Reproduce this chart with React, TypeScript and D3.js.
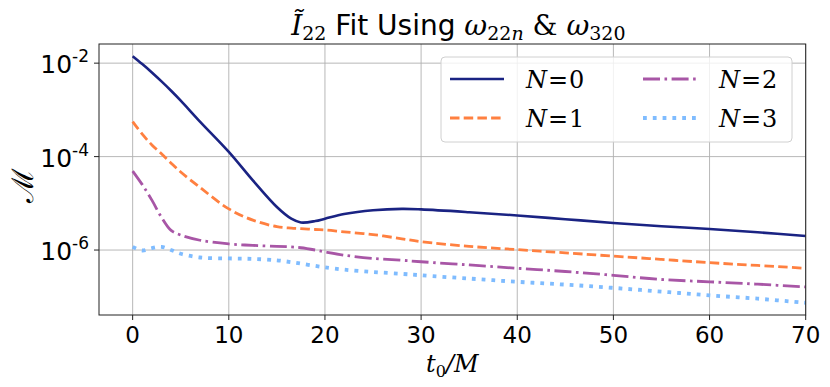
import React from "react";
import * as d3 from "d3";

// time samples (t0/M) shared by all series
const times = [0, 1, 2, 3, 4, 5, 7, 10, 12.5, 15, 16.5, 17.5, 19, 20, 22, 25, 28, 30, 35, 40, 45, 50, 55, 60, 65, 70];

// mismatch values
const mN0 = [1.41e-2, 9.55e-3, 6.31e-3, 4.07e-3, 2.57e-3, 1.58e-3, 5.62e-4, 1.26e-4, 3.09e-5, 8.32e-6, 4.68e-6, 3.89e-6, 4.17e-6, 4.68e-6, 5.89e-6, 7.08e-6, 7.59e-6, 7.41e-6, 6.46e-6, 5.5e-6, 4.57e-6, 3.8e-6, 3.24e-6, 2.82e-6, 2.4e-6, 2.0e-6];
const mN1 = [5.62e-4, 3.02e-4, 1.78e-4, 1.15e-4, 7.24e-5, 4.68e-5, 2.19e-5, 7.59e-6, 4.37e-6, 3.16e-6, 2.95e-6, 2.88e-6, 2.75e-6, 2.69e-6, 2.45e-6, 2.14e-6, 1.74e-6, 1.51e-6, 1.2e-6, 1.02e-6, 8.71e-7, 7.41e-7, 6.31e-7, 5.37e-7, 4.68e-7, 4.07e-7];
const mN2 = [4.9e-5, 2.51e-5, 1.17e-5, 5.01e-6, 2.63e-6, 2.09e-6, 1.62e-6, 1.35e-6, 1.26e-6, 1.2e-6, 1.17e-6, 1.12e-6, 1.0e-6, 9.12e-7, 7.76e-7, 6.61e-7, 6.03e-7, 5.62e-7, 4.79e-7, 4.07e-7, 3.47e-7, 2.88e-7, 2.34e-7, 2.09e-7, 1.86e-7, 1.62e-7];
const mN3 = [1.17e-6, 9.77e-7, 1.1e-6, 1.17e-6, 1.0e-6, 8.32e-7, 6.92e-7, 6.61e-7, 6.46e-7, 6.03e-7, 5.5e-7, 5.13e-7, 4.57e-7, 4.27e-7, 3.8e-7, 3.39e-7, 3.09e-7, 2.88e-7, 2.45e-7, 2.09e-7, 1.82e-7, 1.55e-7, 1.29e-7, 1.07e-7, 9.12e-8, 7.41e-8];

const seriesLabels = ["0", "1", "2", "3"];
const xTicks = [0, 10, 20, 30, 40, 50, 60, 70];
const yTicks = [1e-2, 1e-4, 1e-6];
const yTickExp = ["-2", "-4", "-6"];

const W = 830, H = 387;
const margin = { top: 44, right: 24.3, bottom: 72, left: 99 };

const styles = [
  { color: "#1a2383", dash: "none", width: 2.6 },
  { color: "#ff8040", dash: "9.5,4.2", width: 2.8 },
  { color: "#a856a6", dash: "17,4.5,2.6,4.5", width: 2.8 },
  { color: "#7fbcff", dash: "3.8,6", width: 3.8 },
];

export default function App() {
  const iw = W - margin.left - margin.right;
  const ih = H - margin.top - margin.bottom;

  const x = d3.scaleLinear().domain([-3.5, 70]).range([0, iw]);
  const y = d3.scaleLog().domain([4.07e-8, 2.57e-2]).range([ih, 0]);

  const line = d3
    .line<number>()
    .x((d, i) => x(times[i]))
    .y((d) => y(d))
    .curve(d3.curveCatmullRom.alpha(0.5));

  const all = [mN0, mN1, mN2, mN3];
  const serif = "'DejaVu Serif', serif";
  const sans = "'DejaVu Sans', sans-serif";

  // legend placement
  const lg = { x: 441, y: 57, w: 351, h: 85 };
  const legendPos = [
    { lx: 450, ty: 79 },
    { lx: 450, ty: 118 },
    { lx: 643, ty: 79 },
    { lx: 643, ty: 118 },
  ];

  return (
    <svg width={W} height={H} style={{ position: "absolute", left: 0, top: 0, background: "#fff" }}>
      {/* title */}
      <text x={margin.left + iw / 2 + 6} y={35} textAnchor="middle" fontSize={28} fontFamily={sans}>
        <tspan fontFamily={serif} fontStyle="italic">Ĩ</tspan>
        <tspan fontFamily={serif} fontSize={19} dy={5}>22</tspan>
        <tspan dy={-5}> Fit Using </tspan>
        <tspan fontFamily={serif} fontStyle="italic">ω</tspan>
        <tspan fontFamily={serif} fontSize={19} dy={5}>22</tspan>
        <tspan fontFamily={serif} fontSize={19} fontStyle="italic">n</tspan>
        <tspan fontFamily={serif} dy={-5}> &amp; </tspan>
        <tspan fontFamily={serif} fontStyle="italic">ω</tspan>
        <tspan fontFamily={serif} fontSize={19} dy={5}>320</tspan>
      </text>

      <g transform={`translate(${margin.left},${margin.top})`}>
        {/* grid */}
        {xTicks.map((t) => (
          <line key={"gx" + t} x1={x(t)} x2={x(t)} y1={0} y2={ih} stroke="#b0b0b0" strokeWidth={0.9} />
        ))}
        {yTicks.map((t) => (
          <line key={"gy" + t} x1={0} x2={iw} y1={y(t)} y2={y(t)} stroke="#b0b0b0" strokeWidth={0.9} />
        ))}

        <clipPath id="plotclip">
          <rect x={0} y={0} width={iw} height={ih} />
        </clipPath>
        <g clipPath="url(#plotclip)">
          {all.map((s, i) => (
            <path
              key={i}
              d={line(s) || ""}
              fill="none"
              stroke={styles[i].color}
              strokeWidth={styles[i].width}
              strokeDasharray={styles[i].dash}
            />
          ))}
        </g>

        {/* frame */}
        <rect x={0} y={0} width={iw} height={ih} fill="none" stroke="#222" strokeWidth={1} />

        {/* x ticks */}
        {xTicks.map((t) => (
          <g key={"xt" + t} transform={`translate(${x(t)},${ih})`}>
            <line y1={0} y2={5} stroke="#222" strokeWidth={1} />
            <text y={28} textAnchor="middle" fontSize={23} fontFamily={sans}>{t}</text>
          </g>
        ))}
        {/* y ticks */}
        {yTicks.map((t, i) => (
          <g key={"yt" + t} transform={`translate(0,${y(t)})`}>
            <line x1={0} x2={-5} stroke="#222" strokeWidth={1} />
            <text x={-10} y={10} textAnchor="end" fontSize={25} fontFamily={sans}>
              10<tspan fontSize={17} dy={-11}>{yTickExp[i]}</tspan>
            </text>
          </g>
        ))}
      </g>

      {/* axis labels */}
      <text x={margin.left + iw / 2} y={372} textAnchor="middle" fontSize={24} fontFamily={serif} fontStyle="italic">
        t<tspan fontSize={16} fontStyle="normal" dy={5}>0</tspan>
        <tspan dy={-5}>/M</tspan>
      </text>
      <text transform="translate(33,185) rotate(-90)" textAnchor="middle" fontSize={30} fontFamily={serif}>ℳ</text>

      {/* legend */}
      <rect x={lg.x} y={lg.y} width={lg.w} height={lg.h} rx={4} fill="#fff" fillOpacity={0.8} stroke="#d0d0d0" strokeWidth={1} />
      {seriesLabels.map((lab, i) => {
        const p = legendPos[i];
        return (
          <g key={"lg" + i}>
            <line
              x1={p.lx}
              x2={p.lx + 54}
              y1={p.ty}
              y2={p.ty}
              stroke={styles[i].color}
              strokeWidth={styles[i].width}
              strokeDasharray={styles[i].dash}
            />
            <text x={p.lx + 76} y={p.ty + 9} fontSize={24} fontFamily={serif}>
              <tspan fontStyle="italic">N</tspan>
              <tspan dx={1}>=</tspan>
              <tspan dx={1}>{lab}</tspan>
            </text>
          </g>
        );
      })}
    </svg>
  );
}
